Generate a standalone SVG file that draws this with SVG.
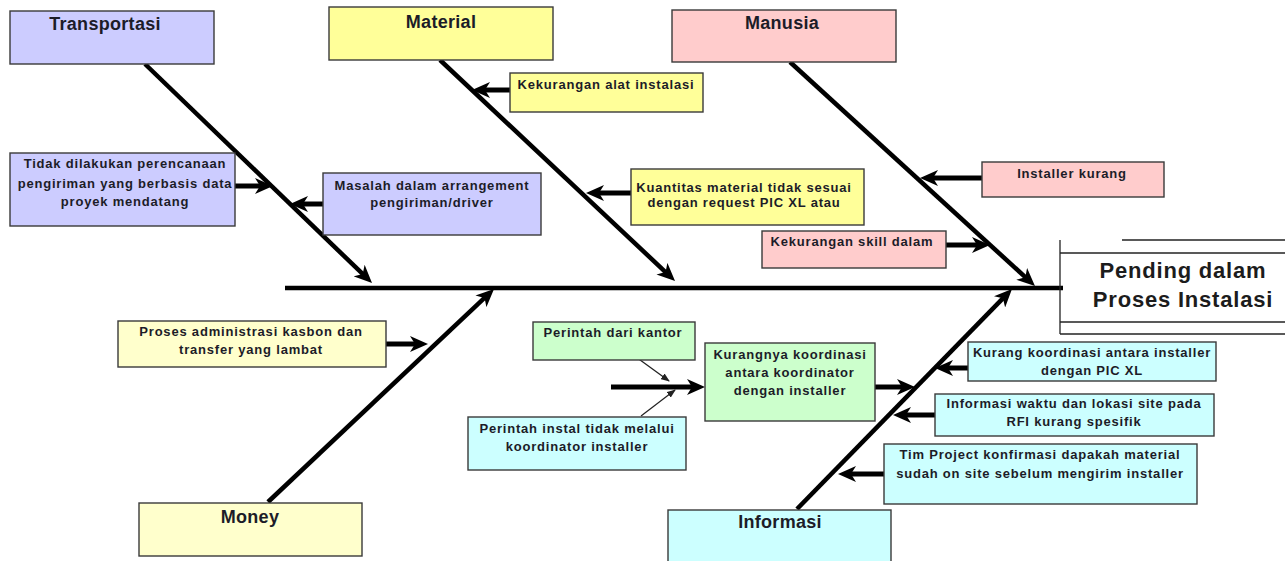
<svg xmlns="http://www.w3.org/2000/svg" width="1285" height="561" viewBox="0 0 1285 561">
  <defs>
    <style>
      .box { stroke: #3a3a3a; stroke-width: 1.4; }
      .lav { fill: #ccccff; }
      .yel { fill: #ffff99; }
      .lyel { fill: #ffffcc; }
      .pink { fill: #ffcccc; }
      .grn { fill: #ccffcc; }
      .cyan { fill: #ccffff; }
      .main { font-family: "Liberation Sans", Arial, sans-serif; font-weight: bold; font-size: 18px; fill: #1c1c28; text-anchor: middle; letter-spacing: 0.3px; }
      .sub { font-family: "Liberation Sans", Arial, sans-serif; font-weight: bold; font-size: 13px; fill: #1c1c28; text-anchor: middle; letter-spacing: 0.8px; }
      .head { font-family: "Liberation Sans", Arial, sans-serif; font-weight: bold; font-size: 22px; fill: #1c1c1c; text-anchor: middle; letter-spacing: 0.8px; }
      .bone { stroke: #000; stroke-width: 4.5; fill: none; marker-end: url(#ah); }
      .arr { stroke: #000; stroke-width: 5; fill: none; marker-end: url(#ah); }
      .thin { stroke: #222; stroke-width: 1.2; fill: none; marker-end: url(#sh); }
      .hl { stroke: #222; stroke-width: 1.3; fill: none; }
    </style>
    <marker id="ah" markerUnits="userSpaceOnUse" viewBox="0 0 18 16" markerWidth="18" markerHeight="16" refX="6" refY="8" orient="auto">
      <path d="M0,0 L18,8 L0,16 L5,8 z" fill="#000"/>
    </marker>
    <marker id="sh" markerUnits="userSpaceOnUse" viewBox="0 0 9 7" markerWidth="9" markerHeight="7" refX="8" refY="3.5" orient="auto">
      <path d="M0,0 L9,3.5 L0,7 z" fill="#222"/>
    </marker>
  </defs>

  <g id="connectors">
    <line x1="285" y1="288" x2="1063" y2="288" stroke="#000" stroke-width="4.5"/>
    <line class="bone" x1="145" y1="64" x2="363.4" y2="274.7"/>
    <line class="bone" x1="440" y1="60" x2="666.3" y2="272.8"/>
    <line class="bone" x1="790" y1="62" x2="1026.1" y2="277.9"/>
    <line class="bone" x1="268" y1="502" x2="485.3" y2="297.2"/>
    <line class="bone" x1="797" y1="509" x2="1003.6" y2="297.6"/>

    <line class="arr" x1="235" y1="186" x2="261" y2="186"/>
    <line class="arr" x1="323" y1="204" x2="302" y2="204"/>
    <line class="arr" x1="510" y1="90" x2="484" y2="90"/>
    <line class="arr" x1="631" y1="193" x2="598" y2="193"/>
    <line class="arr" x1="982" y1="178" x2="932" y2="178"/>
    <line class="arr" x1="946" y1="245" x2="978" y2="245"/>
    <line class="arr" x1="386" y1="344" x2="416" y2="344"/>
    <line class="arr" x1="611" y1="387" x2="693" y2="387" stroke-width="7"/>
    <line class="arr" x1="875" y1="387" x2="903" y2="387"/>
    <line class="arr" x1="968" y1="368" x2="947" y2="368"/>
    <line class="arr" x1="935" y1="415" x2="905" y2="415"/>
    <line class="arr" x1="884" y1="474" x2="850" y2="474"/>

    <line class="thin" x1="636" y1="357" x2="669" y2="381"/>
    <line class="thin" x1="641" y1="416" x2="675" y2="390"/>
  </g>

  <g id="head">
    <line class="hl" x1="1060" y1="240" x2="1060" y2="334"/>
    <line class="hl" x1="1122" y1="240" x2="1285" y2="240"/>
    <line class="hl" x1="1060" y1="253" x2="1285" y2="253"/>
    <line class="hl" x1="1060" y1="322" x2="1285" y2="322"/>
    <line class="hl" x1="1060" y1="334" x2="1285" y2="334"/>
    <text class="head" x="1183" y="278">Pending dalam</text>
    <text class="head" x="1183" y="307">Proses Instalasi</text>
  </g>

  <g id="transportasi">
    <rect class="box lav" x="10" y="11" width="204" height="53"/>
    <text class="main" x="105" y="30">Transportasi</text>
  </g>
  <g id="material">
    <rect class="box yel" x="329" y="7" width="224" height="53"/>
    <text class="main" x="441" y="28">Material</text>
  </g>
  <g id="manusia">
    <rect class="box pink" x="672" y="10" width="224" height="52"/>
    <text class="main" x="782" y="29">Manusia</text>
  </g>
  <g id="money">
    <rect class="box lyel" x="139" y="503" width="223" height="53"/>
    <text class="main" x="250" y="523">Money</text>
  </g>
  <g id="informasi">
    <rect class="box cyan" x="668" y="510" width="223" height="60"/>
    <text class="main" x="780" y="528">Informasi</text>
  </g>

  <g id="tidak-dilakukan">
    <rect class="box lav" x="10" y="153" width="225" height="73"/>
    <text class="sub" x="125" y="168">Tidak dilakukan perencanaan</text>
    <text class="sub" x="125" y="188">pengiriman yang berbasis data</text>
    <text class="sub" x="125" y="206">proyek mendatang</text>
  </g>
  <g id="masalah-arrangement">
    <rect class="box lav" x="323" y="173" width="218" height="62"/>
    <text class="sub" x="432" y="190">Masalah dalam arrangement</text>
    <text class="sub" x="432" y="207">pengiriman/driver</text>
  </g>
  <g id="kekurangan-alat">
    <rect class="box yel" x="510" y="73" width="193" height="39"/>
    <text class="sub" x="606" y="89">Kekurangan alat instalasi</text>
  </g>
  <g id="kuantitas-material">
    <rect class="box yel" x="631" y="169" width="233" height="56"/>
    <text class="sub" x="744" y="192">Kuantitas material tidak sesuai</text>
    <text class="sub" x="744" y="207">dengan request PIC XL atau</text>
  </g>
  <g id="installer-kurang">
    <rect class="box pink" x="982" y="162" width="182" height="35"/>
    <text class="sub" x="1072" y="178">Installer kurang</text>
  </g>
  <g id="kekurangan-skill">
    <rect class="box pink" x="762" y="231" width="184" height="37"/>
    <text class="sub" x="852" y="246">Kekurangan skill dalam</text>
  </g>
  <g id="proses-administrasi">
    <rect class="box lyel" x="118" y="321" width="268" height="46"/>
    <text class="sub" x="251" y="336">Proses administrasi  kasbon dan</text>
    <text class="sub" x="251" y="354">transfer yang lambat</text>
  </g>
  <g id="perintah-kantor">
    <rect class="box grn" x="533" y="322" width="162" height="38"/>
    <text class="sub" x="613" y="337">Perintah dari kantor</text>
  </g>
  <g id="kurangnya-koordinasi">
    <rect class="box grn" x="705" y="343" width="170" height="78"/>
    <text class="sub" x="790" y="359">Kurangnya koordinasi</text>
    <text class="sub" x="790" y="377">antara koordinator</text>
    <text class="sub" x="790" y="395">dengan installer</text>
  </g>
  <g id="perintah-instal">
    <rect class="box cyan" x="468" y="417" width="218" height="53"/>
    <text class="sub" x="577" y="433">Perintah instal tidak melalui</text>
    <text class="sub" x="577" y="451">koordinator installer</text>
  </g>
  <g id="kurang-koordinasi">
    <rect class="box cyan" x="968" y="342" width="248" height="39"/>
    <text class="sub" x="1092" y="357">Kurang koordinasi antara installer</text>
    <text class="sub" x="1092" y="375">dengan PIC XL</text>
  </g>
  <g id="informasi-waktu">
    <rect class="box cyan" x="935" y="394" width="279" height="42"/>
    <text class="sub" x="1074" y="408">Informasi waktu dan lokasi site pada</text>
    <text class="sub" x="1074" y="426">RFI kurang spesifik</text>
  </g>
  <g id="tim-project">
    <rect class="box cyan" x="884" y="444" width="313" height="60"/>
    <text class="sub" x="1040" y="459">Tim Project konfirmasi dapakah material</text>
    <text class="sub" x="1040" y="478">sudah on site sebelum mengirim installer</text>
  </g>
</svg>
